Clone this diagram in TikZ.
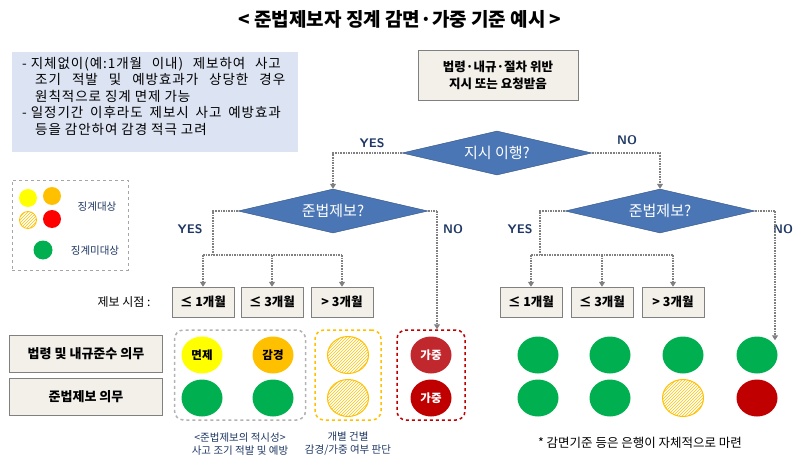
\documentclass[tikz,border=0pt]{standalone}
\usepackage{fontspec}
\setmainfont{Noto Sans CJK KR}
\newfontfamily\nf[LetterSpace=7]{Noto Sans CJK KR}
\usetikzlibrary{shapes.geometric,patterns,arrows.meta}
\definecolor{dblue}{HTML}{4A76B5}
\definecolor{tblue}{HTML}{1F3864}
\definecolor{lblue}{HTML}{DCE3F3}
\definecolor{beige}{HTML}{F3F0EA}
\definecolor{gr}{HTML}{00B050}
\definecolor{ye}{HTML}{FFFF00}
\definecolor{orn}{HTML}{FFC000}
\definecolor{rd}{HTML}{FF0000}
\definecolor{drd}{HTML}{C00000}
\definecolor{mrd}{HTML}{C0282D}
\newcommand{\fl}[1]{\makebox[250pt][s]{#1}}
\begin{document}
\begin{tikzpicture}[x=1pt,y=-1pt,
  dia/.style={diamond,aspect=4.3,fill=dblue,draw=dblue!70!black,text=white,font=\fontsize{15}{17}\selectfont,minimum width=190pt,minimum height=44pt,inner sep=0pt},
  bx/.style={draw=gray,fill=beige,font=\fontsize{12.5}{15}\selectfont\bfseries,minimum height=30pt,inner sep=1pt},
  con/.style={gray,densely dotted,line width=1.6pt},
  arr/.style={con,-{Triangle[width=6pt,length=5pt]}},
  lab/.style={text=tblue,font=\fontsize{12.5}{15}\selectfont\bfseries\sffamily},
  cir/.style={ellipse,minimum width=41pt,minimum height=37pt,inner sep=0pt,font=\fontsize{11.5}{13}\selectfont\bfseries},
  hat/.style={cir,draw=orn,line width=1pt,pattern={north east lines},pattern color=orn},
  captxt/.style={text=tblue,font=\fontsize{10.5}{13}\selectfont,align=center}]
\useasboundingbox (0,0) rectangle (800,468);
\node (title) at (400,19) {\fontsize{19}{22}\selectfont\bfseries < 준법제보자 징계 감면·가중 기준 예시 >};
\node (note) [fill=lblue,minimum width=286pt,minimum height=100pt,anchor=north west,inner sep=0pt] at (12,52) {};
\node (notet) [anchor=north west,font=\nf\fontsize{13.5}{16.5}\selectfont,align=left,inner sep=0pt] at (22,57) {
- \fl{지체없이(예:1개월 이내) 제보하여 사고}\\
\hspace*{13pt}\fl{조기 적발 및 예방효과가 상당한 경우}\\
\hspace*{13pt}원칙적으로 징계 면제 가능\\
- \fl{일정기간 이후라도 제보시 사고 예방효과}\\
\hspace*{13pt}등을 감안하여 감경 적극 고려};
% legend
\node (leg) [draw=gray!70,dashed,minimum width=116pt,minimum height=90pt,anchor=north west] at (12,180) {};
\node (l1) [circle,fill=ye,minimum size=18pt,inner sep=0pt] at (28,198) {};
\node (l2) [circle,fill=orn,minimum size=18pt,inner sep=0pt] at (52,196) {};
\node (l3) [circle,draw=orn,line width=0.8pt,pattern={north east lines},pattern color=orn,minimum size=17pt,inner sep=0pt] at (28,220) {};
\node (l4) [circle,fill=rd,minimum size=18pt,inner sep=0pt] at (52,219) {};
\node (l5) [circle,fill=gr,minimum size=19pt,inner sep=0pt] at (43,250) {};
\node (lt1) [text=tblue,font=\fontsize{10.5}{12}\selectfont] at (97,207) {징계대상};
\node (lt2) [text=tblue,font=\fontsize{10.5}{12}\selectfont] at (95,251) {징계미대상};
% flow
\node (top) [bx,minimum width=160pt,minimum height=50pt,align=center,font=\fontsize{12.5}{17}\selectfont\bfseries] at (498,75) {법령·내규·절차 위반\\지시 또는 요청받음};
\node (d0) [dia] at (497,153) {지시 이행?};
\node (d1) [dia] at (333,211) {준법제보?};
\node (d2) [dia] at (660,211) {준법제보?};
\draw[arr] (d0.west) -| (d1.north);
\draw[arr] (d0.east) -| (d2.north);
\node[lab] at (372,143) {YES};
\node[lab] at (627,140) {NO};
\node (a1) [bx,minimum width=62pt] at (203,302) {≤ 1개월};
\node (a2) [bx,minimum width=62pt] at (272,302) {≤ 3개월};
\node (a3) [bx,minimum width=62pt] at (342,302) {> 3개월};
\node (b1) [bx,minimum width=62pt] at (531,302) {≤ 1개월};
\node (b2) [bx,minimum width=62pt] at (602,302) {≤ 3개월};
\node (b3) [bx,minimum width=62pt] at (673,302) {> 3개월};
\coordinate (c1) at (213,255);
\coordinate (c2) at (540,255);
\draw[con] (d1.west) -| (c1);
\draw[con] (d2.west) -| (c2);
\draw[con] (a1.north |- c1) -- (a3.north |- c1);
\draw[con] (b1.north |- c2) -- (b3.north |- c2);
\foreach \n in {a1,a2,a3} \draw[arr] (\n.north |- c1) -- (\n.north);
\foreach \n in {b1,b2,b3} \draw[arr] (\n.north |- c2) -- (\n.north);
\node[lab] at (190,229) {YES};
\node[lab] at (453,229) {NO};
\node[lab] at (520,229) {YES};
\node[lab] at (783,229) {NO};
\node (tl) [font=\fontsize{12}{14}\selectfont] at (124,302) {제보 시점 :};
\node (r1) [bx,minimum width=153pt,minimum height=37pt,font=\fontsize{13}{15}\selectfont\bfseries] at (86,354) {법령 및 내규준수 의무};
\node (r2) [bx,minimum width=153pt,minimum height=37pt,font=\fontsize{13}{15}\selectfont\bfseries] at (86,397) {준법제보 의무};
% groups
\node (g1) [draw=gray!60,dashed,line width=1.5pt,rounded corners=9pt,minimum width=131pt,minimum height=90pt] at (240,375) {};
\node (g2) [draw=orn,dashed,line width=1.5pt,rounded corners=9pt,minimum width=66pt,minimum height=90pt] at (348,375) {};
\node (g3) [draw=drd,dashed,line width=1.5pt,rounded corners=9pt,minimum width=68pt,minimum height=90pt] at (431,375) {};
\node (e1) [cir,fill=ye] at (202,355) {면제};
\node (e2) [cir,fill=orn] at (273,355) {감경};
\node (e3) [cir,fill=gr] at (202,398) {};
\node (e4) [cir,fill=gr] at (273,398) {};
\node (e5) [hat] at (348,355) {};
\node (e6) [hat] at (348,398) {};
\node (e7) [cir,fill=mrd,text=white] at (431,355) {가중};
\node (e8) [cir,fill=drd,text=white] at (431,398) {가중};
\coordinate (nl) at (437,211);
\coordinate (nr) at (775,211);
\draw[con] (d1.east) -- (nl);
\draw[arr] (nl) -- (g3.north -| nl);
\draw[con] (d2.east) -- (nr);
\node (f1) [cir,fill=gr] at (538,355) {};
\node (f2) [cir,fill=gr] at (538,398) {};
\node (f3) [cir,fill=gr] at (610,355) {};
\node (f4) [cir,fill=gr] at (610,398) {};
\node (f5) [cir,fill=gr] at (683,355) {};
\node (f6) [hat] at (683,398) {};
\node (f7) [cir,fill=gr] at (757,355) {};
\node (f8) [cir,fill=drd] at (757,398) {};
\draw[arr] (nr) -- ([yshift=-4pt]f7.north -| nr);
\node (k1) [captxt] at (240,444) {<준법제보의 적시성>\\사고 조기 적발 및 예방};
\node (k2) [captxt] at (348,444) {개별 건별\\감경/가중 여부 판단};
\node (foot) [font=\fontsize{12.5}{14}\selectfont] at (640,443) {* 감면기준 등은 은행이 자체적으로 마련};
\end{tikzpicture}
\end{document}
